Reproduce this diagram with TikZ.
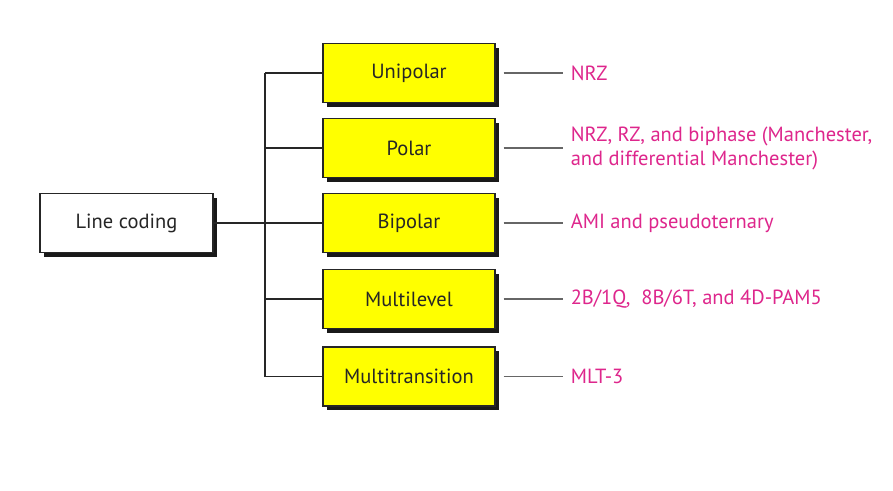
\documentclass[tikz,border=0pt]{standalone}
\usepackage{fontspec}
\setmainfont{PT Sans}
\usetikzlibrary{shadows}
\definecolor{pinktxt}{RGB}{222,38,140}
\definecolor{boxyellow}{RGB}{255,255,0}
\begin{document}
\begin{tikzpicture}[x=1pt,y=-1pt,
  boxbase/.style={draw=black!85,line width=1.2pt,minimum height=59pt,
    font=\fontsize{20.5}{24}\selectfont,text=black!85,
    drop shadow={shadow xshift=4pt,shadow yshift=-4pt,fill=black!90,opacity=1}},
  catbox/.style={boxbase,fill=boxyellow,minimum width=172pt},
  rootbox/.style={boxbase,fill=white,minimum width=173pt},
  trunk/.style={line width=1.8pt,black!85},
  leader/.style={line width=1.1pt,black!60},
  lbl/.style={anchor=west,text=pinktxt,font=\fontsize{20.5}{24}\selectfont,align=left,inner sep=0pt}]
\useasboundingbox (0,0) rectangle (893,490);
\fill[white] (0,0) rectangle (893,490);
\node[rootbox] (root) at (126.5,223) {Line coding};
\node[catbox] (uni) at (409,73) {Unipolar};
\node[catbox] (pol) at (409,148) {Polar};
\node[catbox] (bip) at (409,223) {Bipolar};
\node[catbox] (mul) at (409,299) {Multilevel};
\node[catbox] (mtr) at (409,376.5) {Multitransition};
\coordinate (ttop) at (265,73);
\coordinate (tbot) at (265,376.5);
\draw[trunk] (ttop) -- (tbot);
\draw[trunk] (root.east) -- (bip.west);
\foreach \n in {uni,pol,mul,mtr}{\draw[trunk] (\n.west) -- (\n.west -| ttop);}
\foreach \n/\t in {uni/a,pol/b,bip/c,mul/d,mtr/e}{
  \coordinate (s\t) at ([xshift=8pt]\n.east);
  \coordinate (e\t) at ([xshift=67pt]\n.east);
  \draw[leader] (s\t) -- (e\t);}
\node[lbl] (la) at ([xshift=8pt]ea) {NRZ};
\node[lbl] (lb) at ([xshift=8pt]eb) {NRZ, RZ, and biphase (Manchester,\\and differential Manchester)};
\node[lbl] (lc) at ([xshift=8pt]ec) {AMI and pseudoternary};
\node[lbl] (ld) at ([xshift=8pt]ed) {2B/1Q,\ \ 8B/6T, and 4D-PAM5};
\node[lbl] (le) at ([xshift=8pt]ee) {MLT-3};
\end{tikzpicture}
\end{document}
